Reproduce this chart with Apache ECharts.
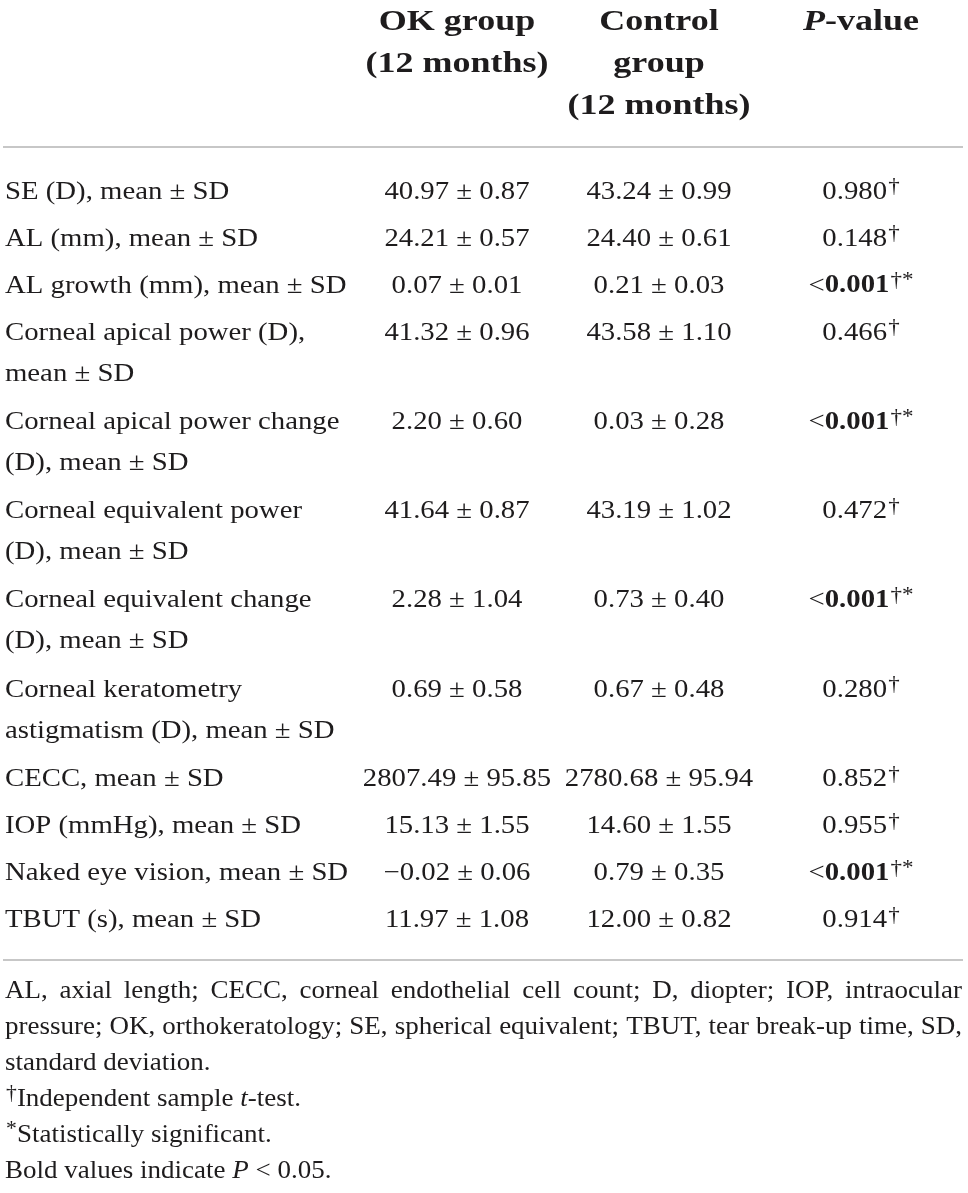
<!DOCTYPE html>
<html>
<head>
<meta charset="utf-8">
<script src="https://cdn.jsdelivr.net/npm/echarts@6/dist/echarts.min.js"></script>
<style>
  html, body { margin: 0; padding: 0; background: #fff; }
  #main { width: 968px; height: 1193px; }
</style>
</head>
<body>
<div id="main"></div>
<script>
// 表格数据
var rowLabels = [
  'SE (D), mean ± SD',
  'AL (mm), mean ± SD',
  'AL growth (mm), mean ± SD',
  'Corneal apical power (D),\nmean ± SD',
  'Corneal apical power change\n(D), mean ± SD',
  'Corneal equivalent power\n(D), mean ± SD',
  'Corneal equivalent change\n(D), mean ± SD',
  'Corneal keratometry\nastigmatism (D), mean ± SD',
  'CECC, mean ± SD',
  'IOP (mmHg), mean ± SD',
  'Naked eye vision, mean ± SD',
  'TBUT (s), mean ± SD'
];
var okMean   = [40.97, 24.21, 0.07, 41.32, 2.20, 41.64, 2.28, 0.69, 2807.49, 15.13, -0.02, 11.97];
var okSD     = [0.87, 0.57, 0.01, 0.96, 0.60, 0.87, 1.04, 0.58, 95.85, 1.55, 0.06, 1.08];
var ctrlMean = [43.24, 24.40, 0.21, 43.58, 0.03, 43.19, 0.73, 0.67, 2780.68, 14.60, 0.79, 12.00];
var ctrlSD   = [0.99, 0.61, 0.03, 1.10, 0.28, 1.02, 0.40, 0.48, 95.94, 1.55, 0.35, 0.82];
var pValues  = [0.980, 0.148, 0.001, 0.466, 0.001, 0.472, 0.001, 0.280, 0.852, 0.955, 0.001, 0.914];
var pLessThan = [false, false, true, false, true, false, true, false, false, false, true, false];

var headers = ['', 'OK group\n(12 months)', 'Control\ngroup\n(12 months)', '{i|P}{b|-value}'];
var footnoteJustified = [
  'AL, axial length; CECC, corneal endothelial cell count; D, diopter; IOP, intraocular',
  'pressure; OK, orthokeratology; SE, spherical equivalent; TBUT, tear break-up time, SD,'
];
var footnotes = [
  'standard deviation.',
  '{s|†}{n|Independent sample }{i|t}{n|-test.}',
  '{s|*}{n|Statistically significant.}',
  '{n|Bold values indicate }{i|P}{n| < 0.05.}'
];

// 样式
var FONT = "'Liberation Serif', 'Times New Roman', serif";
var INK = '#1e1c1d';
var BODY_SIZE = 25, BODY_SX = 1.15;
var HEAD_SIZE = 30, HEAD_SX = 1.2;
var FOOT_SIZE = 25, FOOT_SX = 1.08;
var colX = [5, 457, 659, 861];

function fmt(v) {
  var s = Math.abs(v).toFixed(2);
  return v < 0 ? '\u2212' + s : s;
}

// 每行的纵向位置（两行的单元格多占 0.9 行）
var rowPos = [];
var acc = 0;
rowLabels.forEach(function (lab, i) {
  rowPos.push(acc);
  acc += 1 + 0.9 * (lab.split('\n').length - 1);
});

var seriesData = rowLabels.map(function (lab, i) {
  return [0, rowPos[i], i];
});

function richStyles(size) {
  return {
    n: { fontFamily: FONT, fontSize: size, fill: INK, lineHeight: 30 },
    b: { fontFamily: FONT, fontSize: size, fontWeight: 'bold', fill: INK, lineHeight: 30 },
    i: { fontFamily: FONT, fontSize: size, fontStyle: 'italic', fill: INK, lineHeight: 30 },
    s: { fontFamily: FONT, fontSize: 20, fill: INK, lineHeight: 20, verticalAlign: 'top', padding: [0, 0, 0, 1] }
  };
}

function renderRow(params, api) {
  var i = api.value(2);
  var y = api.coord([0, api.value(1)])[1];
  var children = [];
  // 第一列
  var p0 = api.coord([colX[0], api.value(1)]);
  children.push({
    type: 'text', x: p0[0], y: y - 20.5, scaleX: BODY_SX,
    style: {
      text: rowLabels[i], fontFamily: FONT, fontSize: BODY_SIZE, fill: INK,
      align: 'left', verticalAlign: 'top', lineHeight: 41
    }
  });
  [fmt(okMean[i]) + ' ± ' + fmt(okSD[i]), fmt(ctrlMean[i]) + ' ± ' + fmt(ctrlSD[i])].forEach(function (t, k) {
    var p = api.coord([colX[k + 1], api.value(1)]);
    children.push({
      type: 'text', x: p[0], y: y, scaleX: BODY_SX,
      style: {
        text: t, fontFamily: FONT, fontSize: BODY_SIZE, fill: INK,
        align: 'center', verticalAlign: 'middle'
      }
    });
  });
  var pv = pValues[i].toFixed(3);
  var sig = pValues[i] < 0.05;
  var ptxt = (pLessThan[i] ? '{n|<}' : '') + (sig ? '{b|' + pv + '}' : '{n|' + pv + '}') + '{s|†' + (sig ? '*' : '') + '}';
  var p3 = api.coord([colX[3], api.value(1)]);
  children.push({
    type: 'text', x: p3[0], y: y, scaleX: BODY_SX,
    style: {
      text: ptxt, rich: richStyles(BODY_SIZE), fontFamily: FONT, fontSize: BODY_SIZE, fill: INK,
      align: 'center', verticalAlign: 'middle'
    }
  });
  return { type: 'group', children: children };
}

// 表头、分隔线、注释
var graphics = [];
headers.forEach(function (h, k) {
  if (!h) return;
  graphics.push({
    type: 'text', x: colX[k], y: 1, scaleX: HEAD_SX,
    style: {
      text: h, rich: {
        i: { fontFamily: FONT, fontSize: HEAD_SIZE, fontStyle: 'italic', fontWeight: 'bold', fill: INK, lineHeight: 42 },
        b: { fontFamily: FONT, fontSize: HEAD_SIZE, fontWeight: 'bold', fill: INK, lineHeight: 42 }
      },
      fontFamily: FONT, fontSize: HEAD_SIZE, fontWeight: 'bold', fill: INK,
      align: 'center', verticalAlign: 'top', lineHeight: 42
    }
  });
});
[147, 960].forEach(function (ly) {
  graphics.push({
    type: 'line', shape: { x1: 3, y1: ly, x2: 963, y2: ly },
    style: { stroke: '#b4b4b4', lineWidth: 1.5 }
  });
});

var ctx = document.createElement('canvas').getContext('2d');
ctx.font = FOOT_SIZE + "px 'Liberation Serif'";
var footTop = 991, footStep = 36, footLeft = 5, footRight = 962;
footnoteJustified.forEach(function (line, li) {
  var words = line.split(' ');
  var widths = words.map(function (w) { return ctx.measureText(w).width * FOOT_SX; });
  var total = widths.reduce(function (a, b) { return a + b; }, 0);
  var gap = Math.max(4, (footRight - footLeft - total) / (words.length - 1));
  var x = footLeft;
  words.forEach(function (w, wi) {
    graphics.push({
      type: 'text', x: x, y: footTop + footStep * li, scaleX: FOOT_SX,
      style: { text: w, fontFamily: FONT, fontSize: FOOT_SIZE, fill: INK, align: 'left', verticalAlign: 'middle' }
    });
    x += widths[wi] + gap;
  });
});
footnotes.forEach(function (t, k) {
  graphics.push({
    type: 'text', x: footLeft, y: footTop + footStep * (k + 2), scaleX: FOOT_SX,
    style: {
      text: t, rich: richStyles(FOOT_SIZE), fontFamily: FONT, fontSize: FOOT_SIZE, fill: INK,
      align: 'left', verticalAlign: 'middle'
    }
  });
});

var myChart = echarts.init(document.getElementById('main'));
var option = {
  animation: false,
  backgroundColor: '#fff',
  grid: { left: 0, right: 0, top: 192, height: 940 },
  xAxis: { type: 'value', min: 0, max: 968, show: false },
  yAxis: { type: 'value', min: 0, max: 20, inverse: true, show: false },
  graphic: graphics,
  series: [{
    type: 'custom',
    renderItem: renderRow,
    clip: false,
    silent: true,
    encode: { x: 0, y: 1 },
    data: seriesData
  }]
};
myChart.setOption(option);
</script>
</body>
</html>
